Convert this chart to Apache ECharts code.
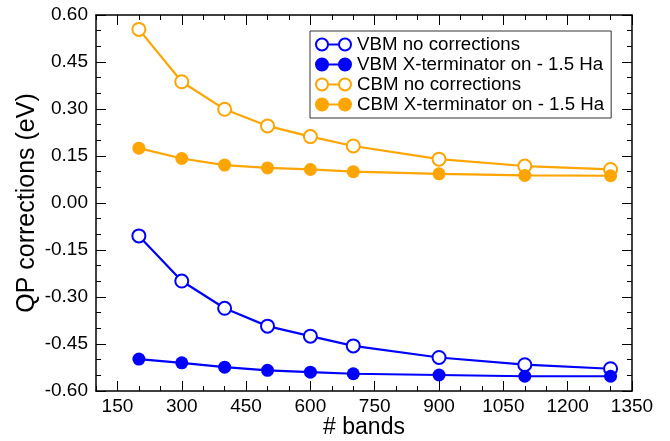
<!DOCTYPE html>
<html>
<head>
<meta charset="utf-8">
<script src="https://cdn.jsdelivr.net/npm/echarts@6/dist/echarts.min.js"></script>
<style>
html,body{margin:0;padding:0;background:#fff;}
#chart{width:670px;height:441px;}
</style>
</head>
<body>
<div id="chart"></div>
<script>
// ---- data ----
var bands = [200, 300, 400, 500, 600, 700, 900, 1100, 1300];
var vbmNoCorr = [-0.105, -0.249, -0.336, -0.393, -0.425, -0.456, -0.493, -0.516, -0.529];
var vbmXterm  = [-0.498, -0.510, -0.524, -0.534, -0.540, -0.545, -0.549, -0.553, -0.553];
var cbmNoCorr = [0.554, 0.387, 0.299, 0.246, 0.212, 0.182, 0.140, 0.118, 0.107];
var cbmXterm  = [0.175, 0.142, 0.121, 0.112, 0.107, 0.100, 0.093, 0.088, 0.087];
var seriesNames = ['VBM no corrections', 'VBM X-terminator on - 1.5 Ha', 'CBM no corrections', 'CBM X-terminator on - 1.5 Ha'];
var xMajorTicks = [150, 300, 450, 600, 750, 900, 1050, 1200, 1350];

var BLUE = '#0000ff', ORANGE = '#ffa500';
var FONT = '"Liberation Sans", Arial, Helvetica, sans-serif';

function pairs(xs, ys) { return xs.map(function (x, i) { return [x, ys[i]]; }); }

var hollowIcon = 'path://M0,7A7,7 0 1,1 14,7A7,7 0 1,1 0,7ZM2,7A5,5 0 1,0 12,7A5,5 0 1,0 2,7ZM13.5,6H23.5V8H13.5ZM23,7A7,7 0 1,1 37,7A7,7 0 1,1 23,7ZM25,7A5,5 0 1,0 35,7A5,5 0 1,0 25,7Z';
var filledIcon = 'path://M0,7A7,7 0 1,1 14,7A7,7 0 1,1 0,7ZM13,6H24V8H13ZM23,7A7,7 0 1,1 37,7A7,7 0 1,1 23,7Z';

function mkSeries(name, ys, color, hollow) {
  return {
    name: name, type: 'line', data: pairs(bands, ys),
    symbol: hollow ? 'emptyCircle' : 'circle', symbolSize: 13,
    lineStyle: { color: color, width: 2.2 },
    itemStyle: { color: color, borderColor: color, borderWidth: hollow ? 2 : 0 },
    emphasis: { disabled: true }, animation: false
  };
}

var axisLineStyle = { onZero: false, lineStyle: { color: '#000', width: 1.5 } };
var chart = echarts.init(document.getElementById('chart'), null, { renderer: 'canvas' });
chart.setOption({
  backgroundColor: '#fff',
  animation: false,
  grid: { left: 96, right: 38, top: 15, bottom: 50, outerBoundsMode: 'none', containLabel: false },
  legend: {
    orient: 'vertical', left: 310, top: 31,
    padding: [4, 7, 4, 5], itemGap: 1,
    itemWidth: 37, itemHeight: 14,
    borderColor: '#333', borderWidth: 1,
    textStyle: { fontSize: 18.7, fontFamily: FONT, color: '#000', lineHeight: 19 },
    selectedMode: false,
    data: [
      { name: seriesNames[0], icon: hollowIcon, itemStyle: { color: BLUE, borderWidth: 0 } },
      { name: seriesNames[1], icon: filledIcon, itemStyle: { color: BLUE, borderWidth: 0 } },
      { name: seriesNames[2], icon: hollowIcon, itemStyle: { color: ORANGE, borderWidth: 0 } },
      { name: seriesNames[3], icon: filledIcon, itemStyle: { color: ORANGE, borderWidth: 0 } }
    ]
  },
  xAxis: [
    {
      type: 'value', min: 100, max: 1350, position: 'bottom',
      name: '# bands', nameLocation: 'middle', nameGap: 25, nameMoveOverlap: false,
      nameTextStyle: { fontSize: 23, fontFamily: FONT, color: '#000' },
      axisLine: axisLineStyle,
      axisTick: { show: true, inside: true, length: 10, customValues: xMajorTicks, lineStyle: { color: '#000', width: 1 } },
      axisLabel: { customValues: xMajorTicks, fontSize: 19, fontFamily: FONT, color: '#000', margin: 6,
        formatter: function (v) { return String(Math.round(v)); } },
      splitLine: { show: false }
    },
    {
      type: 'value', min: 100, max: 1350, interval: 50, position: 'bottom',
      axisLine: { show: false, onZero: false },
      axisTick: { show: true, inside: true, length: 5, lineStyle: { color: '#000', width: 1 } },
      axisLabel: { show: false }, splitLine: { show: false }
    },
    {
      type: 'value', min: 100, max: 1350, position: 'top',
      axisLine: axisLineStyle,
      axisTick: { show: true, inside: true, length: 10, customValues: xMajorTicks, lineStyle: { color: '#000', width: 1 } },
      axisLabel: { show: false }, splitLine: { show: false }
    },
    {
      type: 'value', min: 100, max: 1350, interval: 50, position: 'top',
      axisLine: { show: false, onZero: false },
      axisTick: { show: true, inside: true, length: 5, lineStyle: { color: '#000', width: 1 } },
      axisLabel: { show: false }, splitLine: { show: false }
    }
  ],
  yAxis: [
    {
      type: 'value', min: -0.6, max: 0.6, interval: 0.15, position: 'left',
      name: 'QP corrections (eV)', nameLocation: 'middle', nameGap: 56, nameRotate: 90, nameMoveOverlap: false,
      nameTextStyle: { fontSize: 25, fontFamily: FONT, color: '#000' },
      axisLine: axisLineStyle,
      axisTick: { show: true, inside: true, length: 10, lineStyle: { color: '#000', width: 1 } },
      minorTick: { show: true, splitNumber: 3, length: 5, lineStyle: { color: '#000', width: 1 } },
      axisLabel: {
        fontSize: 19, fontFamily: FONT, color: '#000', margin: 8,
        formatter: function (v) { return Math.abs(v) < 1e-9 ? '0.00' : v.toFixed(2); }
      },
      splitLine: { show: false }, minorSplitLine: { show: false }
    },
    {
      type: 'value', min: -0.6, max: 0.6, interval: 0.15, position: 'right',
      axisLine: axisLineStyle,
      axisTick: { show: true, inside: true, length: 10, lineStyle: { color: '#000', width: 1 } },
      minorTick: { show: true, splitNumber: 3, length: 5, lineStyle: { color: '#000', width: 1 } },
      axisLabel: { show: false },
      splitLine: { show: false }, minorSplitLine: { show: false }
    }
  ],
  series: [
    mkSeries(seriesNames[0], vbmNoCorr, BLUE, true),
    mkSeries(seriesNames[1], vbmXterm, BLUE, false),
    mkSeries(seriesNames[2], cbmNoCorr, ORANGE, true),
    mkSeries(seriesNames[3], cbmXterm, ORANGE, false)
  ]
});
</script>
</body>
</html>
